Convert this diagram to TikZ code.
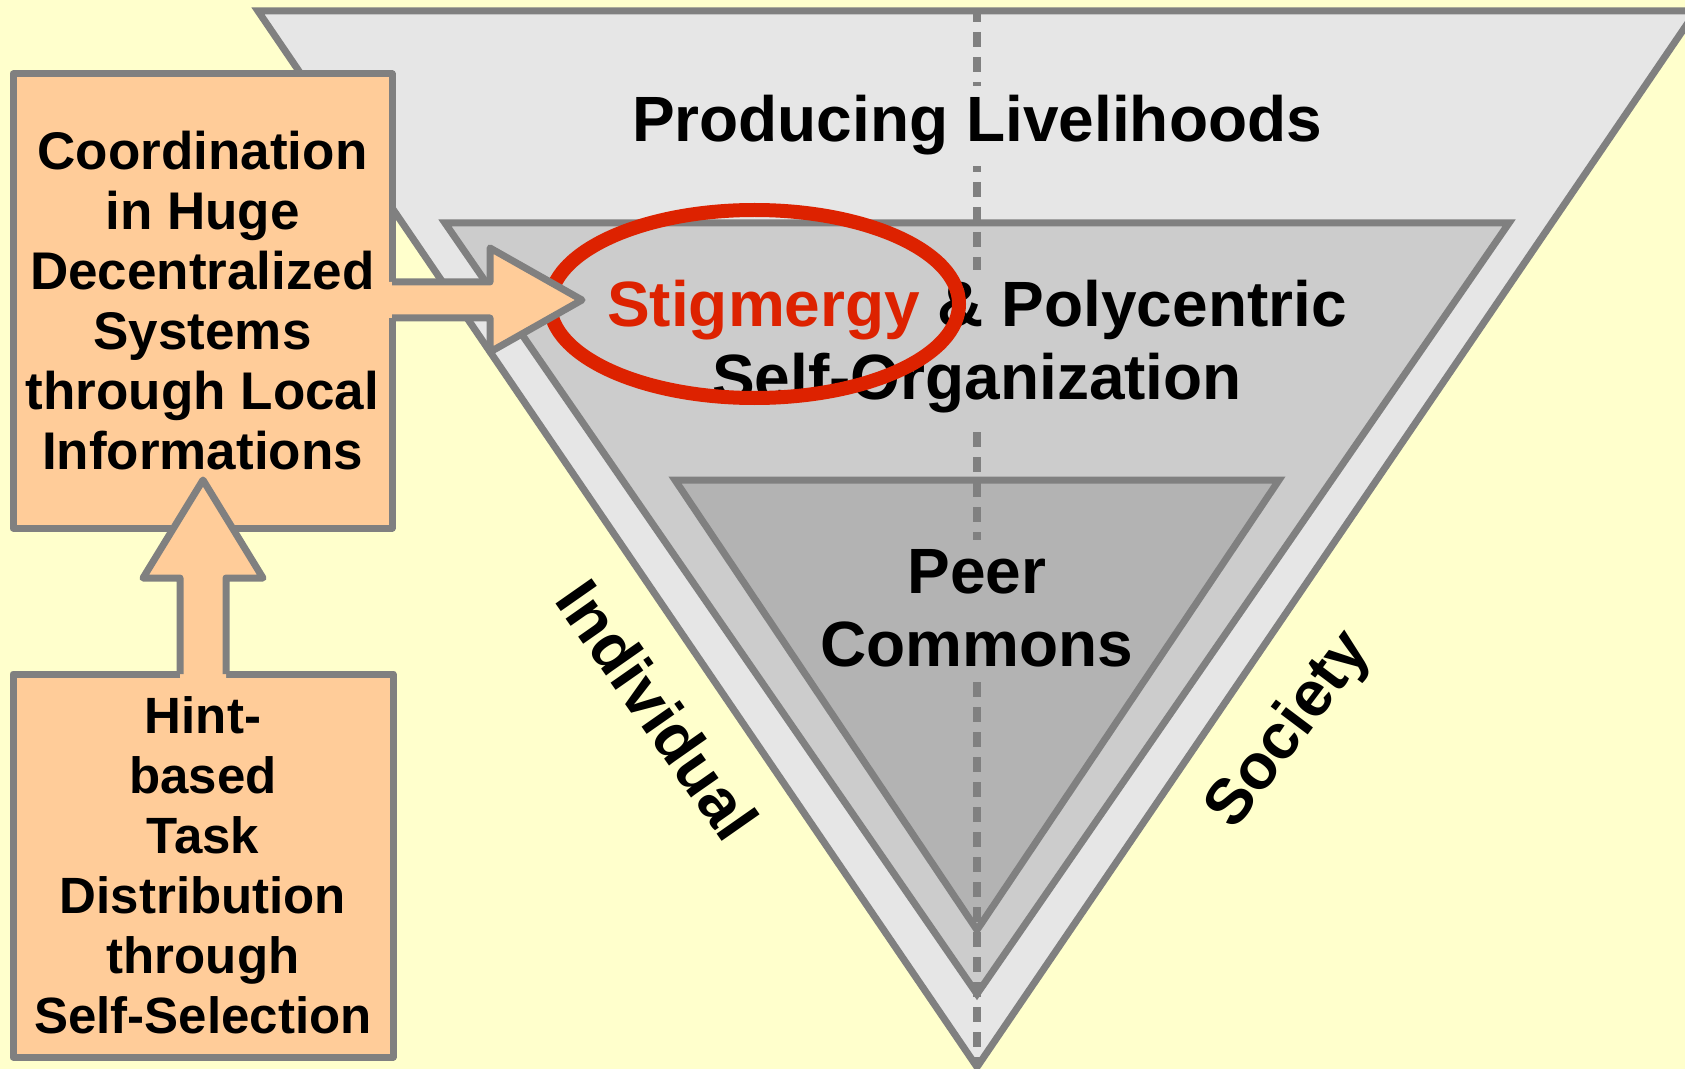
\documentclass[tikz,border=0pt]{standalone}
\usepackage{fontspec}
\setmainfont{Liberation Sans}
\usetikzlibrary{shapes.geometric,calc}
\definecolor{bg}{HTML}{FFFFCC}
\definecolor{edge}{HTML}{808080}
\definecolor{outerfill}{HTML}{E6E6E6}
\definecolor{midfill}{HTML}{CCCCCC}
\definecolor{innerfill}{HTML}{B3B3B3}
\definecolor{peach}{HTML}{FFCC99}
\definecolor{stig}{HTML}{DD2200}
\begin{document}
\begin{tikzpicture}[x=0.5pt,y=-0.5pt,
  tri/.style={draw=edge, line width=3.5pt},
  bigtext/.style={font=\bfseries\fontsize{32}{36.5}\selectfont, text=black, align=center, inner xsep=2pt, inner ysep=5pt},
  sidetext/.style={font=\bfseries\fontsize{32}{36}\selectfont, text=black, inner sep=0pt},
  box/.style={draw=edge, fill=peach, line width=3.5pt, line join=round, inner sep=0pt, outer sep=0pt, align=center},
  arrowfill/.style={fill=peach},
  arrowline/.style={draw=edge, line width=3.5pt, line join=round},
  divider/.style={draw=edge, line width=4pt, dash pattern=on 7.5pt off 5pt, dash phase=2pt},
  ring/.style={ellipse, draw=stig, line width=7pt, inner sep=0pt}
]
\useasboundingbox (0,0) rectangle (1685,1069);
\fill[bg] (0,0) rectangle (1685,1069);
\begin{scope}
\clip (0,0) rectangle (1685,1069);
% triangles
\filldraw[tri, fill=outerfill] (258,11) -- (1696,11) -- (977,1067) -- cycle;
\filldraw[tri, fill=midfill] (445,223) -- (1509,223) -- (977,994) -- cycle;
\filldraw[tri, fill=innerfill] (675,480) -- (1279,480) -- (977,930) -- cycle;
% dashed divider
\coordinate (dtop) at (977,11);
\coordinate (dbot) at (977,1067);
\draw[divider] (dtop) -- (dbot);
\end{scope}
% labels
\node[bigtext, fill=outerfill, anchor=base] (prod) at (977,142) {Producing Livelihoods};
\node[bigtext, fill=midfill] (poly) at (977,346.5) {\textcolor{stig}{Stigmergy} \& Polycentric\\Self-Organization};
\node[bigtext, fill=innerfill] (peer) at (977,608.5) {Peer\\Commons};
\node[sidetext, rotate=-55] (indiv) at (658,710) {Individual};
\node[sidetext, rotate=53] (soc) at (1290,731) {Society};
% red ellipse
\node[ring, minimum width=204.5pt, minimum height=94pt] (circ) at (754.5,304) {};
% boxes
\node[box, minimum width=189.5pt, minimum height=227pt, font=\bfseries\fontsize{26.5}{30}\selectfont] (coord) at (202.5,301)
  {Coordination\\in Huge\\Decentralized\\Systems\\through Local\\Informations};
\node[box, minimum width=190pt, minimum height=191.5pt, font=\bfseries\fontsize{25.5}{30}\selectfont] (hint) at (203,865.5)
  {Hint-\\based\\Task\\Distribution\\through\\Self-Selection};
% up arrow
\coordinate (ua) at (hint.north);
\fill[arrowfill] ($(ua)+(-23,5)$) -- ($(ua)+(-23,-96)$) -- ($(ua)+(-60,-96)$) -- ($(ua)+(0,-194)$)
  -- ($(ua)+(60,-96)$) -- ($(ua)+(23,-96)$) -- ($(ua)+(23,5)$) -- cycle;
\draw[arrowline] ($(ua)+(-23,0)$) -- ($(ua)+(-23,-96)$) -- ($(ua)+(-60,-96)$) -- ($(ua)+(0,-194)$)
  -- ($(ua)+(60,-96)$) -- ($(ua)+(23,-96)$) -- ($(ua)+(23,0)$);
% right arrow
\coordinate (ra) at ($(coord.east)+(0,-1)$);
\fill[arrowfill] ($(ra)+(-5,-18)$) -- ($(ra)+(98,-18)$) -- ($(ra)+(98,-52)$) -- ($(ra)+(190,0)$)
  -- ($(ra)+(98,52)$) -- ($(ra)+(98,18)$) -- ($(ra)+(-5,18)$) -- cycle;
\draw[arrowline] ($(ra)+(0,-18)$) -- ($(ra)+(98,-18)$) -- ($(ra)+(98,-52)$) -- ($(ra)+(190,0)$)
  -- ($(ra)+(98,52)$) -- ($(ra)+(98,18)$) -- ($(ra)+(0,18)$);
\end{tikzpicture}
\end{document}
